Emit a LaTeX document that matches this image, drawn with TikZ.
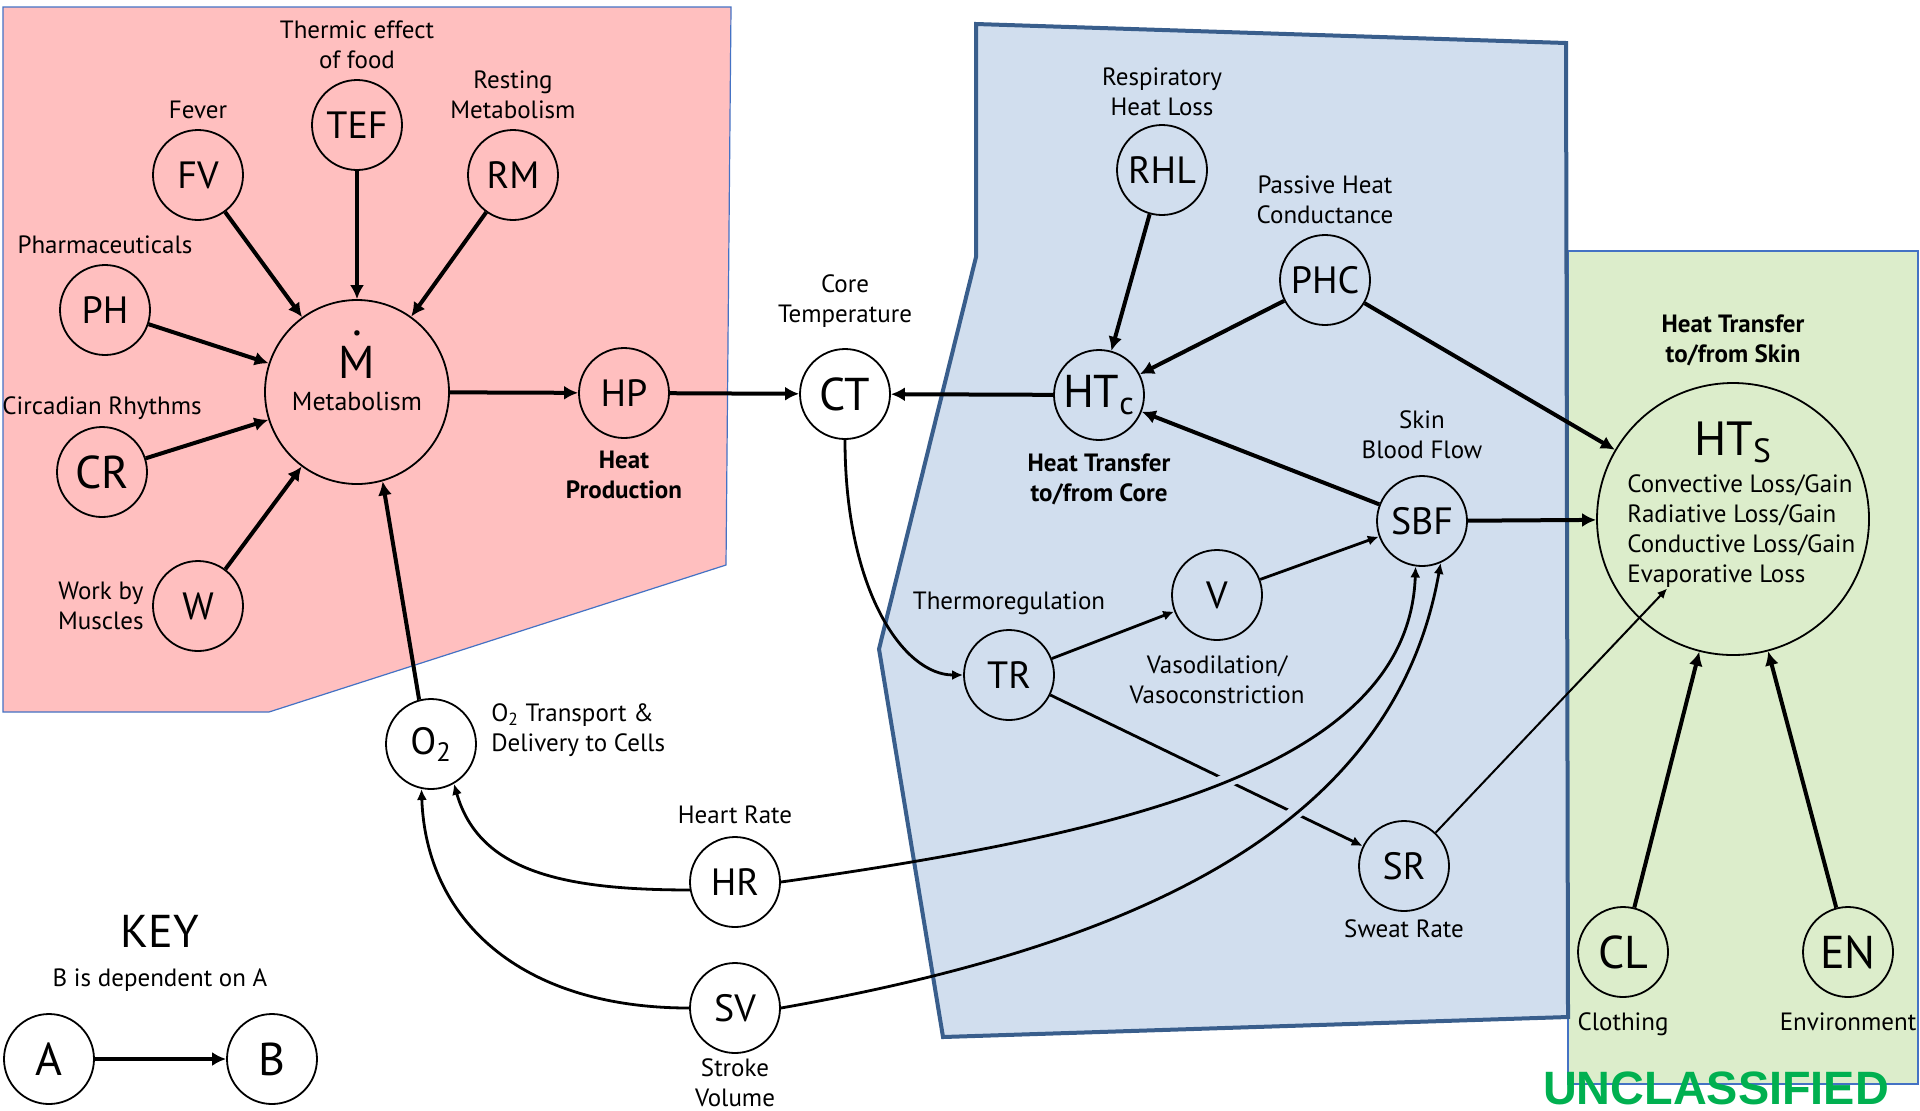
\documentclass[tikz,border=0pt]{standalone}
\usepackage{fontspec}
\setmainfont{PT Sans}
\newfontfamily\stampfont{Liberation Sans}
\usepackage{xcolor}
\usepackage{tikz}
\usetikzlibrary{positioning, arrows.meta, calc}

\definecolor{pinkzone}{RGB}{255,191,191}
\definecolor{bluezone}{RGB}{209,222,238}
\definecolor{bluerim}{RGB}{57,94,140}
\definecolor{greenzone}{RGB}{220,237,203}
\definecolor{thinrim}{RGB}{68,114,196}
\definecolor{stampgreen}{RGB}{0,176,80}

\newcommand\circfont{\fontsize{19}{21}\selectfont}
\newcommand\bigcircfont{\fontsize{23}{25}\selectfont}
\newcommand\notefont{\fontsize{12.5}{15}\selectfont}
\newcommand\boldnotefont{\fontsize{12.5}{15}\selectfont\bfseries}
\newcommand\Mdot{\ooalign{M\cr\hidewidth\raisebox{0.92em}{.}\hidewidth\cr}}

\tikzset{
  factor/.style={circle, draw, line width=0.9pt, minimum size=45pt, inner sep=0pt, font=\circfont},
  bigfactor/.style={factor, font=\bigcircfont},
  note/.style={align=center, inner sep=1pt, font=\notefont},
  boldnote/.style={note, font=\boldnotefont},
  dep/.style={-{Latex[length=7pt,width=7pt]}, line width=2pt},
  link/.style={-{Latex[length=5.5pt,width=5pt]}, line width=1.4pt},
  faintlink/.style={-{Latex[length=5pt,width=4.5pt]}, line width=1pt},
  halo/.style={line width=7pt, draw=bluezone}
}

\begin{document}
\begin{tikzpicture}[x=0.5pt, y=-0.5pt]
\useasboundingbox (0,0) rectangle (1920,1110);

% zones
\filldraw[fill=greenzone, draw=thinrim, line width=0.6pt] (1568,251) rectangle (1918,1084);
\filldraw[fill=pinkzone, draw=thinrim, line width=0.6pt] (3,7) -- (731,7) -- (726,565) -- (269,712) -- (3,712) -- cycle;
\filldraw[fill=bluezone, draw=bluerim, line width=2pt] (976,24) -- (1566,43) -- (1568,1017) -- (943,1037) -- (879,649) -- (976,257) -- cycle;

% heat production
\node (m) [factor, minimum size=92pt] at (357,392) {};
\node (mdot) [anchor=base, font=\bigcircfont] at ([yshift=7pt]m.center) {\Mdot};
\node (mname) [anchor=base, font=\fontsize{13}{15}\selectfont] at ([yshift=-9pt]m.center) {Metabolism};
\node (tef) [factor] at (357,125) {TEF};
\node (fv) [factor] at (198,175) {FV};
\node (rm) [factor] at (513,175) {RM};
\node (ph) [factor] at (105,310) {PH};
\node (cr) [bigfactor] at (102,472) {CR};
\node (w) [factor] at (198,606) {W};
\node (hp) [factor] at (624,393) {HP};
\node (ct) [bigfactor] at (845,394) {CT};
\node (o2) [factor] at (431,744) {O\textsubscript{2}};
\node (hr) [factor] at (735,882) {HR};
\node (sv) [factor] at (735,1008) {SV};

\node (teflabel) [note, above=4pt of tef] {Thermic effect\\of food};
\node (fvlabel) [note, above=4pt of fv] {Fever};
\node (rmlabel) [note, above=4pt of rm] {Resting\\Metabolism};
\node (phlabel) [note, above=4pt of ph] {Pharmaceuticals};
\node (crlabel) [note, above=2pt of cr] {Circadian Rhythms};
\node (wlabel) [note, left=3pt of w] {Work by\\Muscles};
\node (hplabel) [boldnote, below=5pt of hp] {Heat\\Production};
\node (ctlabel) [note, above=9pt of ct] {Core\\Temperature};
\node (o2label) [note, align=left, right=6pt of o2, yshift=7pt] {O\textsubscript{2} Transport \&\\Delivery to Cells};
\node (hrlabel) [note, above=5pt of hr] {Heart Rate};
\node (svlabel) [note, below=1pt of sv] {Stroke\\Volume};

% key
\node (keytitle) [font=\bigcircfont] at (160,931) {KEY};
\node (keynote) [note] at (160,980) {B is dependent on A};
\node (keya) [bigfactor] at (49,1059) {A};
\node (keyb) [bigfactor] at (272,1059) {B};

% core heat transfer
\node (rhl) [factor] at (1162,170) {RHL};
\node (phc) [factor] at (1325,280) {PHC};
\node (htc) [bigfactor] at (1099,395) {HT\textsubscript{c}};
\node (sbf) [factor] at (1422,521) {SBF};
\node (v) [factor] at (1217,595) {V};
\node (tr) [factor] at (1009,675) {TR};
\node (sr) [factor] at (1404,866) {SR};

\node (rhllabel) [note, above=3pt of rhl] {Respiratory\\Heat Loss};
\node (phclabel) [note, above=4pt of phc] {Passive Heat\\Conductance};
\node (htclabel) [boldnote, below=5pt of htc] {Heat Transfer\\to/from Core};
\node (sbflabel) [note, above=7pt of sbf] {Skin\\Blood Flow};
\node (vlabel) [note, below=6pt of v] {Vasodilation/\\Vasoconstriction};
\node (trlabel) [note, above=6pt of tr] {Thermoregulation};
\node (srlabel) [note, below=2.5pt of sr] {Sweat Rate};

% skin heat transfer
\node (hts) [factor, minimum size=136pt] at (1733,519) {};
\node (htsname) [anchor=base, font=\fontsize{24}{26}\selectfont] at ([yshift=32pt]hts.center) {HT\textsubscript{S}};
\node (htslist) [note, align=left, anchor=west] at (1625,531) {Convective Loss/Gain\\Radiative Loss/Gain\\Conductive Loss/Gain\\Evaporative Loss};
\node (htslabel) [boldnote, above=7pt of hts] {Heat Transfer\\to/from Skin};
\node (cl) [bigfactor] at (1623,952) {CL};
\node (en) [bigfactor] at (1848,952) {EN};
\node (cllabel) [note, below=6pt of cl] {Clothing};
\node (enlabel) [note, below=6pt of en] {Environment};

\node (stamp) [font={\stampfont\bfseries\fontsize{23.4}{24}\selectfont}, text=stampgreen, inner sep=0pt] at (1716,1088) {UNCLASSIFIED};

% dependencies
\draw[dep] (fv) -- (m);
\draw[dep] (tef) -- (m);
\draw[dep] (rm) -- (m);
\draw[dep] (ph) -- (m);
\draw[dep] (cr) -- (m);
\draw[dep] (w) -- (m);
\draw[dep] (m) -- (hp);
\draw[dep] (hp) -- (ct);
\draw[dep] (o2.105) -- (m.-74);
\draw[dep] (htc) -- (ct);
\draw[dep] (rhl) -- (htc);
\draw[dep] (phc) -- (htc);
\draw[dep] (sbf) -- (htc);
\draw[dep] (phc) -- (hts);
\draw[dep] (sbf) -- (hts);
\draw[dep] (cl) -- (hts);
\draw[dep] (en) -- (hts);
\draw[dep] (keya) -- (keyb);

\draw[link] (ct.south) to[out=-90, in=180, out distance=75pt, in distance=30pt] (tr.west);
\draw[link] (tr) -- (v);
\draw[link] (v) -- (sbf);
\draw[link] (tr) -- (sr);

% breaks in the sweat rate line
\begin{scope}
\clip (1150,740) rectangle (1340,860);
\draw[halo] (hr.east) to[out=8, in=-92, out distance=175pt, in distance=100pt] (sbf.-98);
\draw[halo] (sv.east) to[out=10, in=-100, out distance=190pt, in distance=130pt] (sbf.-66);
\end{scope}

\draw[link] (hr.east) to[out=8, in=-92, out distance=175pt, in distance=100pt] (sbf.-98);
\draw[link] (sv.east) to[out=10, in=-100, out distance=190pt, in distance=130pt] (sbf.-66);
\draw[link] (hr.190) to[out=180, in=-74, out distance=65pt, in distance=45pt] (o2.-60);
\draw[link] (sv.west) to[out=180, in=-88, out distance=85pt, in distance=65pt] (o2.-102);

\coordinate (evap) at ($(hts.center)!0.2!(sr.center)$);
\draw[faintlink] (sr) -- (evap);
\end{tikzpicture}
\end{document}
